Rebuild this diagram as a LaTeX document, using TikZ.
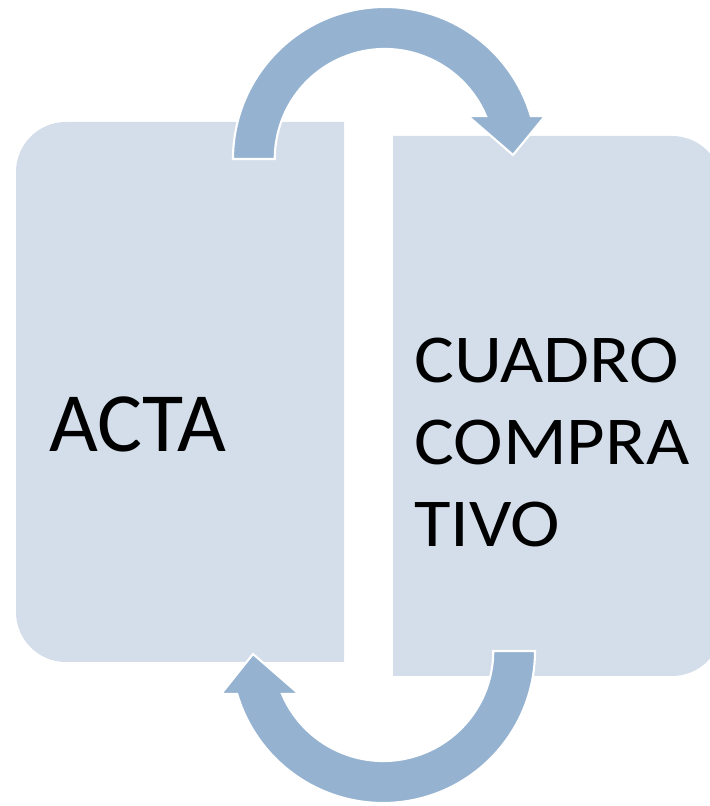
\documentclass[tikz,border=0pt]{standalone}
\usepackage{fontspec}
\setmainfont{Carlito}
\newfontfamily\anchafont[FakeStretch=1.09]{Carlito}
\usetikzlibrary{positioning}
\definecolor{cajaazul}{RGB}{211,222,234}
\definecolor{flechaazul}{RGB}{149,179,209}
\tikzset{
	caja/.style={fill=cajaazul},
	flecha/.style={fill=flechaazul, draw=white, line width=1.2pt, line join=miter},
	rotulo/.style={inner sep=0pt, anchor=base west, align=left}
}

\begin{document}
\begin{tikzpicture}[x=0.2mm, y=0.2mm]
				\useasboundingbox (0,0) rectangle (710,806);
				\clip (0,0) rectangle (710,806);
				\fill[caja] (344,144) -- (66,144) arc[start angle=270, end angle=180, radius=50] -- (16,634) arc[start angle=180, end angle=90, radius=50] -- (344,684) -- cycle;
				\fill[caja] (393,130) -- (672,130) arc[start angle=-90, end angle=0, radius=50] -- (722,620) arc[start angle=0, end angle=90, radius=50] -- (393,670) -- cycle;
				\node[rotulo, font=\fontsize{48}{58}\selectfont] (acta) at (49,354) {ACTA};
				\node[rotulo, font=\anchafont\fontsize{39}{46.7}\selectfont] (cuadro) at (414,259) {CUADRO\\COMPRA\\TIVO};
				\draw[flecha] (233,647) arc[start angle=180, end angle=16.4, radius=152] -- (545,690) -- (513,651) -- (468,690) -- (486,690) arc[start angle=23, end angle=180, radius=110] -- cycle;
				\draw[flecha] (535,155) arc[start angle=0, end angle=-163.6, radius=152] -- (221,112) -- (253,152) -- (299,112) -- (282,112) arc[start angle=-157, end angle=0, radius=110] -- cycle;
			\end{tikzpicture}
\end{document}
